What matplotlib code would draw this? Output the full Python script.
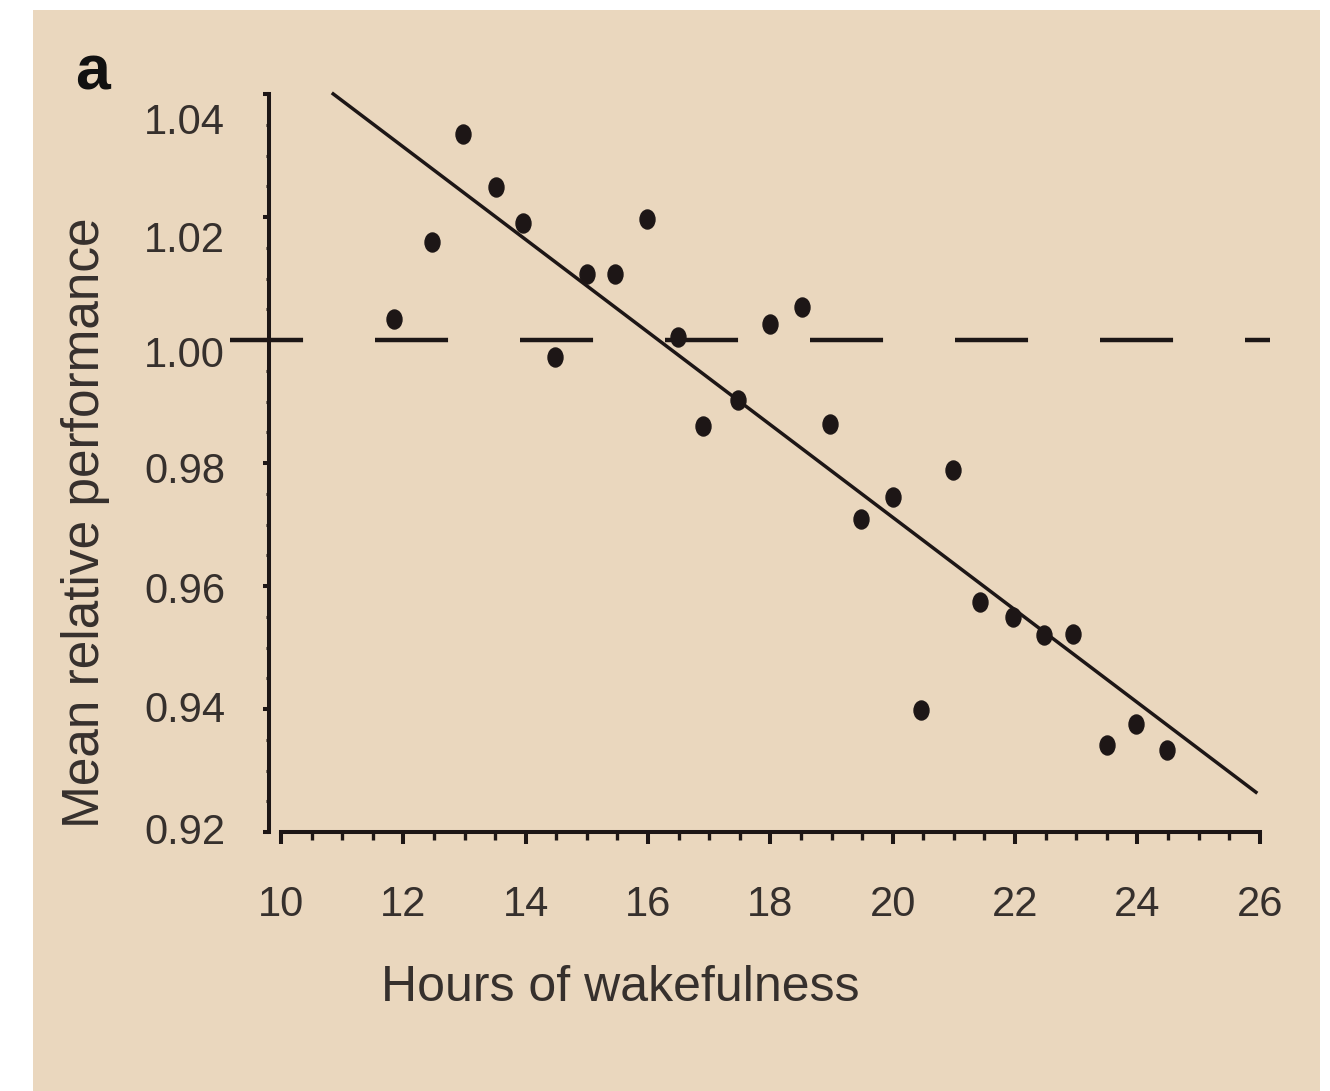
import numpy as np
import matplotlib
matplotlib.use('Agg')
import matplotlib.pyplot as plt
from matplotlib.path import Path
from matplotlib.transforms import Affine2D, ScaledTranslation
from matplotlib.patches import Rectangle
from matplotlib.ticker import MultipleLocator

# Data
hours = [11.84, 12.46, 12.98, 13.51, 13.96, 14.48, 15.01, 15.46, 15.98, 16.49,
         16.89, 17.47, 17.99, 18.52, 18.97, 19.48, 20.01, 20.47, 20.99, 21.42,
         21.97, 22.47, 22.94, 23.51, 23.97, 24.49]
performance = [1.0034, 1.0160, 1.0335, 1.0249, 1.0190, 0.9973, 1.0107, 1.0108, 1.0197, 1.0005,
               0.9860, 0.9902, 1.0026, 1.0054, 0.9864, 0.9709, 0.9744, 0.9398, 0.9788, 0.9574,
               0.9549, 0.9520, 0.9522, 0.9342, 0.9376, 0.9333]

# regression line end points
fit_x = [10.83, 25.96]
fit_y = [1.0402, 0.9263]

# reference level line
ref_x = [9.17, 26.16]
ref_y = [1.00, 1.00]

xticks = [10, 12, 14, 16, 18, 20, 22, 24, 26]
yticks = [0.92, 0.94, 0.96, 0.98, 1.00, 1.02, 1.04]

plt.rcParams['font.family'] = ['Liberation Sans', 'DejaVu Sans']
plt.rcParams['lines.scale_dashes'] = False

ink = '#1d1616'
txt = '#36302d'
beige = '#EAD7BE'

fig = plt.figure(figsize=(13.3, 10.91), dpi=100, facecolor='white')
fig.patches.append(Rectangle((33 / 1330, 0), (1320 - 33) / 1330, 1 - 10 / 1091,
                             transform=fig.transFigure, facecolor=beige, edgecolor='none', zorder=-10))

ax = fig.add_axes([268.8 / 1330, 1 - 832 / 1091, (1272 - 268.8) / 1330, (832 - 91) / 1091])
ax.set_facecolor('none')
ax.set_xlim(9.8, 26.2)
ax.set_ylim(0.92, 1.0405)

# dashed line at 1.00
ax.plot(ref_x, ref_y, color=ink, linewidth=3.2, dashes=(52.6, 51.8),
        dash_capstyle='butt', clip_on=False, zorder=2)

# regression line
ax.plot(fit_x, fit_y, color=ink, linewidth=2.5, solid_capstyle='butt', zorder=3)

# elliptical dots
ell = Path.unit_circle().transformed(Affine2D().scale(1.0, 1.27))
ax.plot(hours, performance, linestyle='none', marker=ell, markersize=13.7,
        color=ink, zorder=4)

for side in ['top', 'right']:
    ax.spines[side].set_visible(False)
ax.spines['left'].set_bounds(0.92, 1.04)
ax.spines['bottom'].set_bounds(10, 26)
for side in ['left', 'bottom']:
    ax.spines[side].set_linewidth(2.9)
    ax.spines[side].set_color(ink)
    ax.spines[side].set_capstyle('projecting')

ax.set_xticks(xticks)
ax.set_yticks(yticks)
ax.set_xticklabels([str(t) for t in xticks])
ax.set_yticklabels(['%.2f' % t for t in yticks])
ax.xaxis.set_minor_locator(MultipleLocator(0.5))
ax.yaxis.set_minor_locator(MultipleLocator(0.005))

ax.tick_params(axis='x', which='major', direction='out', length=8.5, width=2.9,
               color=ink, labelsize=30, labelcolor=txt, pad=30)
ax.tick_params(axis='x', which='minor', direction='out', length=5.5, width=2.4, color=ink)
ax.tick_params(axis='y', which='major', direction='out', length=4.5, width=2.9,
               color=ink, labelsize=30, labelcolor=txt, pad=27)
ax.tick_params(axis='y', which='minor', direction='out', length=2.5, width=2.2, color=ink)

# y labels drift below their ticks towards the top of the axis (pixels)
label_drop = [-4, -3, 1, 4, 11, 19, 24]
for tick, d in zip(ax.yaxis.get_major_ticks(), label_drop):
    shift = ScaledTranslation(0, -d / 100, fig.dpi_scale_trans)
    tick.label1.set_transform(tick.label1.get_transform() + shift)

ax.set_xlabel('Hours of wakefulness', fontsize=36, color=txt)
ax.xaxis.set_label_coords(0.35, -0.18)
ax.set_ylabel('Mean relative performance', fontsize=37, color=txt)
ax.yaxis.set_label_coords(-0.158, 0.418)

fig.text(75 / 1330, 1 - 90 / 1091, 'a', fontsize=45, fontweight='bold', color='#111111',
         ha='left', va='baseline')

fig.savefig('out.png', dpi=100, facecolor='white')
